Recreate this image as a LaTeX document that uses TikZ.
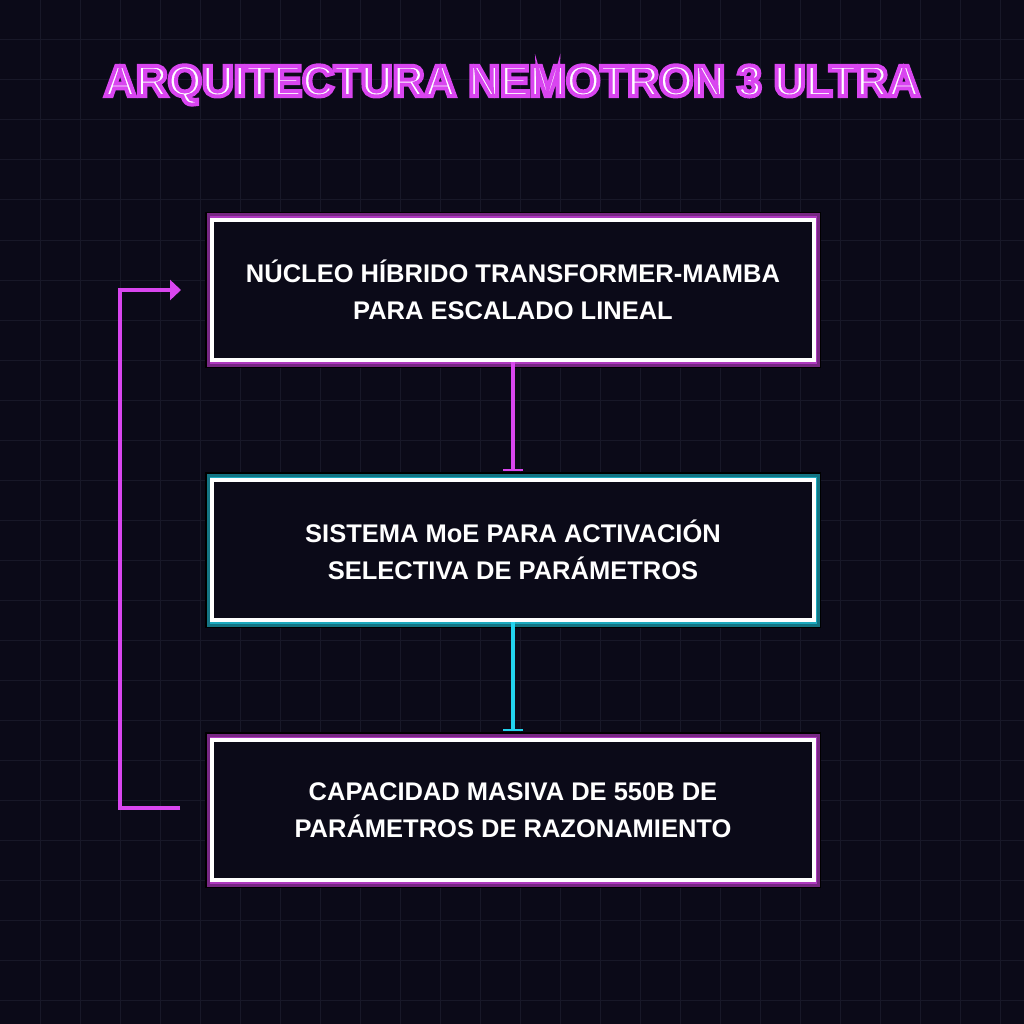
\documentclass[tikz,border=0pt]{standalone}
\usepackage{fontspec}
\setmainfont{Liberation Sans}
\usetikzlibrary{arrows.meta}
\definecolor{bg}{HTML}{0B0A18}
\definecolor{gridc}{HTML}{181828}
\definecolor{mag}{HTML}{D946EF}
\definecolor{magd}{HTML}{7A2A8A}
\definecolor{cy}{HTML}{22D3EE}
\definecolor{cyd}{HTML}{137A88}
\tikzset{
  x=1pt,y=-1pt,
  bx/.style={draw=white,line width=4pt,minimum width=602pt,minimum height=140pt,fill=bg,align=center,text=white,font=\bfseries\fontsize{25.5}{37}\selectfont,inner sep=0pt},
  link/.style={line width=3.5pt},
  ringk/.style={draw=black,line width=6pt},
}
\newcommand{\glowring}[3]{%
  \draw[ringk] (208,#1) rectangle (818,#2);
  \draw[draw=#3!55!black,line width=4pt] (208.5,#1+0.5) rectangle (817.5,#2-0.5);
  \draw[draw=#3!80!black,line width=2pt] (210.5,#1+2.5) rectangle (815.5,#2-2.5);
}
\begin{document}
\begin{tikzpicture}
\useasboundingbox (0,0) rectangle (1024,1024);
\fill[bg] (0,0) rectangle (1024,1024);
\foreach \i in {40,80,...,1000}{
  \draw[gridc,line width=1pt] (\i,0) -- (\i,1024);
  \draw[gridc,line width=1pt] (0,\i) -- (1024,\i);
}
\node (title) [text=white,font=\bfseries\fontsize{44}{50}\selectfont] at (512,85)
  {\special{pdf:literal direct 2 Tr 4 w 0.85 0.27 0.94 RG}ARQUITECTURA NEMOTRON 3 ULTRA\special{pdf:literal direct 0 Tr}};
\glowring{215}{365}{mag}
\glowring{475}{625}{cy}
\glowring{735}{885}{mag}
\node (b1) [bx] at (513,290) {NÚCLEO HÍBRIDO TRANSFORMER-MAMBA\\PARA ESCALADO LINEAL};
\node (b2) [bx] at (513,550) {SISTEMA MoE PARA ACTIVACIÓN\\SELECTIVA DE PARÁMETROS};
\node (b3) [bx] at (513,810) {CAPACIDAD MASIVA DE 550B DE\\PARÁMETROS DE RAZONAMIENTO};
\coordinate (t1) at (513,471);
\coordinate (t2) at (513,731);
\draw[link,mag,-{Bar[width=20pt,line width=2.5pt]}] (b1.south) -- (t1);
\draw[link,cy,-{Bar[width=20pt,line width=2.5pt]}] (b2.south) -- (t2);
\coordinate (f1) at (180,808);
\coordinate (f2) at (181,290);
\draw[link,mag,-{Triangle[length=11pt,width=20pt]}] (f1) -- (120,808) -- (120,290) -- (f2);
\end{tikzpicture}
\end{document}
